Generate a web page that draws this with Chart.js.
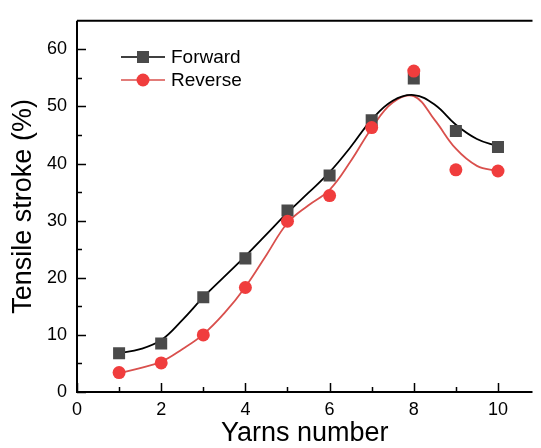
<!DOCTYPE html>
<html>
<head>
<meta charset="utf-8">
<script src="https://cdn.jsdelivr.net/npm/chart.js@4.4.1/dist/chart.umd.min.js"></script>
<style>
  html, body { margin: 0; padding: 0; background: #fff; overflow: hidden; }
</style>
</head>
<body>
<canvas id="strokeChart" width="541" height="448"></canvas>
<script>
// measured points
const yarns = [1, 2, 3, 4, 5, 6, 7, 8, 9, 10];
const forwardStroke = [6.8, 8.5, 16.6, 23.4, 31.8, 37.9, 47.6, 54.9, 45.7, 42.9];
const reverseStroke = [3.4, 5.1, 10.0, 18.3, 29.9, 34.4, 46.3, 56.2, 38.9, 38.7];

// fitted curves
const fitYarns = [1, 1.5, 2, 2.5, 3, 3.5, 4, 4.5, 5, 5.5, 6, 6.5, 7, 7.5, 8, 8.5, 9, 9.5, 10];
const forwardFit = [6.8, 7.5, 9.1, 12.6, 16.6, 20.2, 23.8, 27.6, 31.4, 34.9, 38.5, 42.9, 47.7, 51.0, 52.0, 50.3, 46.8, 44.3, 43.0];
const reverseFit = [3.3, 4.2, 5.3, 7.5, 10.1, 13.8, 18.4, 24.0, 29.6, 32.7, 35.4, 40.4, 46.2, 50.7, 51.8, 47.6, 42.6, 39.6, 38.7];

const xTicks = [0, 2, 4, 6, 8, 10];
const xMinorTicks = [1, 3, 5, 7, 9];
const yTicks = [0, 10, 20, 30, 40, 50, 60];
const yMinorTicks = [5, 15, 25, 35, 45, 55];

const FONT = "'Liberation Sans', Arial, sans-serif";
const BLACK_LINE = "#000000";
const RED_LINE = "#d9504d";
const SQUARE = "#4a4a4a";
const CIRCLE = "#f03d3d";

const toXY = (xs, ys) => xs.map((x, i) => ({ x: x, y: ys[i] }));

const frame = {
	id: "frame",
	afterDraw(chart) {
		const { ctx, chartArea: a, scales } = chart;
		const x = scales.x;
		const y = scales.y;
		ctx.save();
		ctx.strokeStyle = "#000";
		ctx.lineWidth = 2;
		ctx.beginPath();
		ctx.moveTo(a.left, a.top);
		ctx.lineTo(a.right, a.top);
		ctx.moveTo(a.left, a.top);
		ctx.lineTo(a.left, a.bottom);
		ctx.lineTo(a.right, a.bottom);
		ctx.stroke();

		ctx.lineWidth = 1.5;
		ctx.beginPath();
		xTicks.forEach((v) => {
			const px = Math.round(x.getPixelForValue(v)) + 0.5;
			ctx.moveTo(px, a.bottom);
			ctx.lineTo(px, a.bottom - 9);
		});
		xMinorTicks.forEach((v) => {
			const px = Math.round(x.getPixelForValue(v)) + 0.5;
			ctx.moveTo(px, a.bottom);
			ctx.lineTo(px, a.bottom - 5);
		});
		yTicks.forEach((v) => {
			const py = Math.round(y.getPixelForValue(v)) + 0.5;
			ctx.moveTo(a.left, py);
			ctx.lineTo(a.left + 9, py);
		});
		yMinorTicks.forEach((v) => {
			const py = Math.round(y.getPixelForValue(v)) + 0.5;
			ctx.moveTo(a.left, py);
			ctx.lineTo(a.left + 5, py);
		});
		ctx.stroke();
		ctx.restore();
	},
};

const legendBox = {
	id: "legendBox",
	afterDraw(chart) {
		const ctx = chart.ctx;
		const rows = [
			{ ds: chart.data.datasets[2], y: 57, line: BLACK_LINE, shape: "rect", fill: SQUARE },
			{ ds: chart.data.datasets[3], y: 80, line: RED_LINE, shape: "circle", fill: CIRCLE },
		];
		ctx.save();
		rows.forEach((r) => {
			ctx.strokeStyle = r.line;
			ctx.lineWidth = 1.6;
			ctx.beginPath();
			ctx.moveTo(121, r.y);
			ctx.lineTo(165, r.y);
			ctx.stroke();
			ctx.fillStyle = r.fill;
			if (r.shape === "rect") {
				ctx.fillRect(137, r.y - 6, 12, 12);
			} else {
				ctx.beginPath();
				ctx.arc(143, r.y, 6.5, 0, Math.PI * 2);
				ctx.fill();
			}
			ctx.fillStyle = "#000";
			ctx.font = "19px " + FONT;
			ctx.textBaseline = "middle";
			ctx.fillText(r.ds.label, 171, r.y + 1);
		});
		ctx.restore();
	},
};

new Chart(document.getElementById("strokeChart"), {
	type: "line",
	data: {
		datasets: [
			{
				label: "Reverse",
				type: "scatter",
				data: toXY(yarns, reverseStroke),
				pointStyle: "circle",
				pointRadius: 6.5,
				backgroundColor: CIRCLE,
				borderWidth: 0,
				order: 1,
			},
			{
				label: "Forward",
				type: "scatter",
				data: toXY(yarns, forwardStroke),
				pointStyle: "rect",
				pointRadius: 8.5,
				backgroundColor: SQUARE,
				borderWidth: 0,
				order: 2,
			},
			{
				label: "Forward",
				data: toXY(fitYarns, forwardFit),
				borderColor: BLACK_LINE,
				borderWidth: 1.8,
				pointRadius: 0,
				tension: 0.4,
				fill: false,
				order: 3,
			},
			{
				label: "Reverse",
				data: toXY(fitYarns, reverseFit),
				borderColor: RED_LINE,
				borderWidth: 1.8,
				pointRadius: 0,
				tension: 0.4,
				fill: false,
				order: 4,
			},
		],
	},
	options: {
		responsive: false,
		animation: false,
		layout: { padding: { top: 14, right: 0, left: 0, bottom: 0 } },
		plugins: {
			legend: { display: false },
			tooltip: { enabled: false },
		},
		scales: {
			x: {
				type: "linear",
				min: 0,
				max: 10.82,
				afterBuildTicks: (s) => {
					s.ticks = xTicks.map((v) => ({ value: v }));
				},
				afterFit: (s) => {
					s.height = 56;
				},
				grid: { display: false, drawTicks: false },
				border: { display: false },
				ticks: {
					padding: 7,
					color: "#000",
					font: { family: FONT, size: 18 },
				},
				title: {
					display: true,
					text: "Yarns number",
					color: "#000",
					font: { family: FONT, size: 27 },
					padding: { top: 0, bottom: -2 },
				},
			},
			y: {
				min: 0,
				max: 65,
				afterBuildTicks: (s) => {
					s.ticks = yTicks.map((v) => ({ value: v }));
				},
				afterFit: (s) => {
					s.width = 77;
				},
				grid: { display: false, drawTicks: false },
				border: { display: false },
				ticks: {
					padding: 10,
					color: "#000",
					font: { family: FONT, size: 18 },
				},
				title: {
					display: true,
					text: "Tensile stroke (%)",
					color: "#000",
					font: { family: FONT, size: 27 },
					padding: { top: 7, bottom: 0 },
				},
			},
		},
	},
	plugins: [frame, legendBox],
});
</script>
</body>
</html>
